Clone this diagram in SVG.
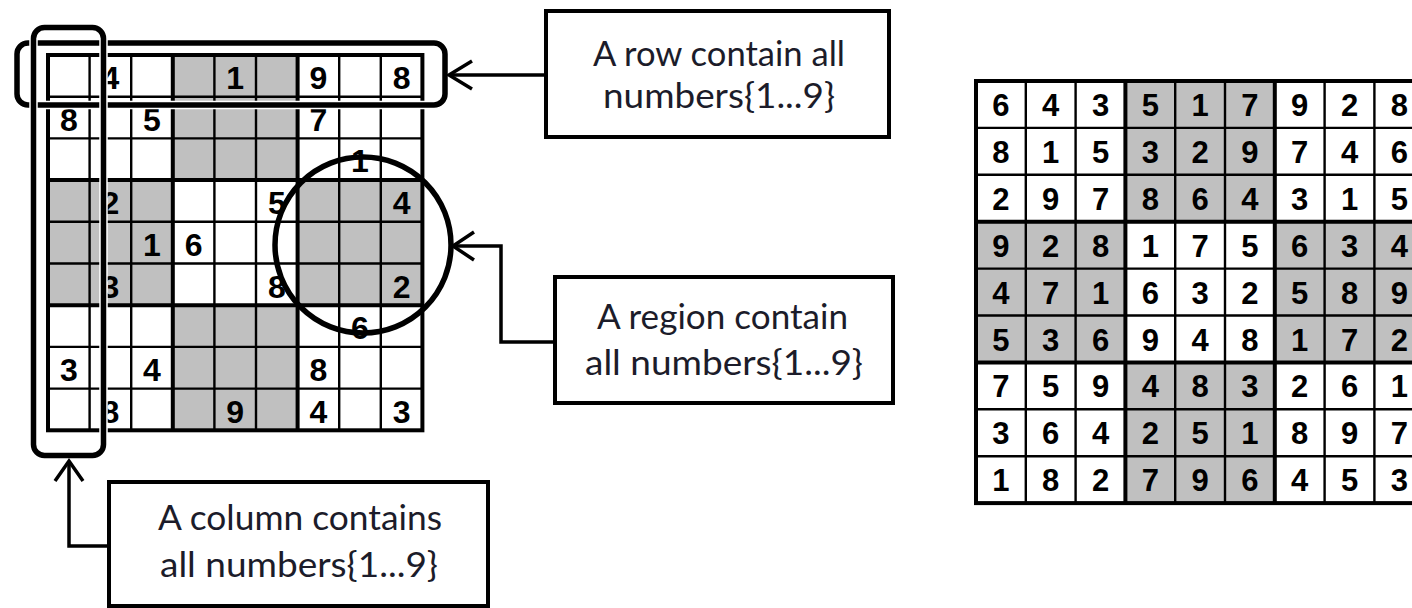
<svg xmlns="http://www.w3.org/2000/svg" width="1412" height="608" viewBox="0 0 1412 608">
  <style>
    .shade { fill: #c0c0c0; }
    .thin { stroke: #000; stroke-width: 2.4; fill: none; }
    .thick { stroke: #000; stroke-width: 4; fill: none; }
    .d1 { font-family: "Liberation Sans", Arial, sans-serif; font-weight: bold; font-size: 32px; text-anchor: middle; fill: #000; }
    .d2 { font-family: "Liberation Sans", Arial, sans-serif; font-weight: bold; font-size: 31px; text-anchor: middle; fill: #000; }
    .mark { fill: none; stroke: #000; stroke-width: 5.5; }
    .halo { fill: none; stroke: #fff; stroke-width: 8.5; }
    .box { fill: #fff; stroke: #000; stroke-width: 4; }
    .lbl { font-family: Lato, "Open Sans", sans-serif; font-size: 34px; text-anchor: middle; fill: #1c1c2a; }
    .conn { fill: none; stroke: #000; stroke-width: 3.5; stroke-linejoin: miter; }
  </style>

  <rect width="1412" height="608" fill="#fff"/>

  <!-- Puzzle grid (9x9, partially filled) -->
  <g id="puzzle">
    <rect x="48" y="55" width="374.4" height="375.3" fill="#fff"/>
    <rect class="shade" x="172.8" y="55" width="124.8" height="125.1"/>
    <rect class="shade" x="48" y="180.1" width="124.8" height="125.1"/>
    <rect class="shade" x="297.6" y="180.1" width="124.8" height="125.1"/>
    <rect class="shade" x="172.8" y="305.2" width="124.8" height="125.1"/>
    <path class="thin" d="M89.6 55V430.3M131.2 55V430.3M214.4 55V430.3M256 55V430.3M339.2 55V430.3M380.8 55V430.3M48 96.7H422.4M48 138.4H422.4M48 221.8H422.4M48 263.5H422.4M48 346.9H422.4M48 388.6H422.4"/>
    <path class="thick" d="M172.8 55V430.3M297.6 55V430.3M48 180.1H422.4M48 305.2H422.4"/>
    <rect class="thick" x="48" y="55" width="374.4" height="375.3"/>
    <text class="d1" x="110.4" y="89">4</text>
    <text class="d1" x="235.2" y="89">1</text>
    <text class="d1" x="318.4" y="89">9</text>
    <text class="d1" x="401.6" y="89">8</text>
    <text class="d1" x="68.8" y="130.7">8</text>
    <text class="d1" x="152" y="130.7">5</text>
    <text class="d1" x="318.4" y="130.7">7</text>
    <text class="d1" x="360" y="172.4">1</text>
    <text class="d1" x="110.4" y="214.1">2</text>
    <text class="d1" x="276.8" y="214.1">5</text>
    <text class="d1" x="401.6" y="214.1">4</text>
    <text class="d1" x="152" y="255.8">1</text>
    <text class="d1" x="193.6" y="255.8">6</text>
    <text class="d1" x="110.4" y="297.5">3</text>
    <text class="d1" x="276.8" y="297.5">8</text>
    <text class="d1" x="401.6" y="297.5">2</text>
    <text class="d1" x="360" y="339.2">6</text>
    <text class="d1" x="68.8" y="380.9">3</text>
    <text class="d1" x="152" y="380.9">4</text>
    <text class="d1" x="318.4" y="380.9">8</text>
    <text class="d1" x="110.4" y="422.6">8</text>
    <text class="d1" x="235.2" y="422.6">9</text>
    <text class="d1" x="318.4" y="422.6">4</text>
    <text class="d1" x="401.6" y="422.6">3</text>
  </g>

  <!-- Highlights drawn over the puzzle -->
  <g id="row-mark">
    <rect class="halo" x="17" y="43" width="428" height="62" rx="11"/>
    <rect class="mark" x="17" y="43" width="428" height="62" rx="11"/>
  </g>
  <g id="column-mark">
    <rect class="halo" x="33.5" y="27.5" width="70" height="428" rx="11"/>
    <rect class="mark" x="33.5" y="27.5" width="70" height="428" rx="11"/>
  </g>
  <g id="region-mark">
    <circle class="mark" cx="363" cy="245" r="88"/>
  </g>

  <!-- Completed grid -->
  <g id="solution">
    <rect x="976" y="81" width="448.2" height="422.1" fill="#fff"/>
    <rect class="shade" x="1125.4" y="81" width="149.4" height="140.7"/>
    <rect class="shade" x="976" y="221.7" width="149.4" height="140.7"/>
    <rect class="shade" x="1274.8" y="221.7" width="149.4" height="140.7"/>
    <rect class="shade" x="1125.4" y="362.4" width="149.4" height="140.7"/>
    <path class="thin" d="M1025.8 81V503.1M1075.6 81V503.1M1175.2 81V503.1M1225 81V503.1M1324.6 81V503.1M1374.4 81V503.1M976 127.9H1424.2M976 174.8H1424.2M976 268.6H1424.2M976 315.5H1424.2M976 409.3H1424.2M976 456.2H1424.2"/>
    <path class="thick" d="M1125.4 81V503.1M1274.8 81V503.1M976 221.7H1424.2M976 362.4H1424.2"/>
    <rect class="thick" x="976" y="81" width="448.2" height="422.1"/>
    <text class="d2" x="1000.9 1050.7 1100.5 1150.3 1200.1 1249.9 1299.7 1349.5 1399.3" y="116">643517928</text>
    <text class="d2" x="1000.9 1050.7 1100.5 1150.3 1200.1 1249.9 1299.7 1349.5 1399.3" y="162.9">815329746</text>
    <text class="d2" x="1000.9 1050.7 1100.5 1150.3 1200.1 1249.9 1299.7 1349.5 1399.3" y="209.8">297864315</text>
    <text class="d2" x="1000.9 1050.7 1100.5 1150.3 1200.1 1249.9 1299.7 1349.5 1399.3" y="256.7">928175634</text>
    <text class="d2" x="1000.9 1050.7 1100.5 1150.3 1200.1 1249.9 1299.7 1349.5 1399.3" y="303.6">471632589</text>
    <text class="d2" x="1000.9 1050.7 1100.5 1150.3 1200.1 1249.9 1299.7 1349.5 1399.3" y="350.5">536948172</text>
    <text class="d2" x="1000.9 1050.7 1100.5 1150.3 1200.1 1249.9 1299.7 1349.5 1399.3" y="397.4">759483261</text>
    <text class="d2" x="1000.9 1050.7 1100.5 1150.3 1200.1 1249.9 1299.7 1349.5 1399.3" y="444.3">364251897</text>
    <text class="d2" x="1000.9 1050.7 1100.5 1150.3 1200.1 1249.9 1299.7 1349.5 1399.3" y="491.2">182796453</text>
  </g>

  <!-- Connectors from the labels to the highlights -->
  <g id="connectors">
    <path class="conn" d="M546 75H449"/>
    <path class="conn" d="M472 61L449 75L472 89"/>
    <path class="conn" d="M555 342H501V246H453"/>
    <path class="conn" d="M474 232L453 246L474 260"/>
    <path class="conn" d="M109 546H69V461"/>
    <path class="conn" d="M55 481L69 461L83 481"/>
  </g>

  <!-- Labels -->
  <g id="label-row">
    <rect class="box" x="546" y="11" width="343" height="126"/>
    <text class="lbl" x="719" y="66" textLength="252" lengthAdjust="spacingAndGlyphs">A row contain all</text>
    <text class="lbl" x="719" y="108" textLength="232" lengthAdjust="spacingAndGlyphs">numbers{1...9}</text>
  </g>
  <g id="label-region">
    <rect class="box" x="555" y="277" width="338" height="126"/>
    <text class="lbl" x="722.5" y="329" textLength="251" lengthAdjust="spacingAndGlyphs">A region contain</text>
    <text class="lbl" x="724" y="375" textLength="278" lengthAdjust="spacingAndGlyphs">all numbers{1...9}</text>
  </g>
  <g id="label-column">
    <rect class="box" x="109" y="482" width="379" height="124"/>
    <text class="lbl" x="300" y="530" textLength="284" lengthAdjust="spacingAndGlyphs">A column contains</text>
    <text class="lbl" x="299" y="577" textLength="278" lengthAdjust="spacingAndGlyphs">all numbers{1...9}</text>
  </g>
</svg>
